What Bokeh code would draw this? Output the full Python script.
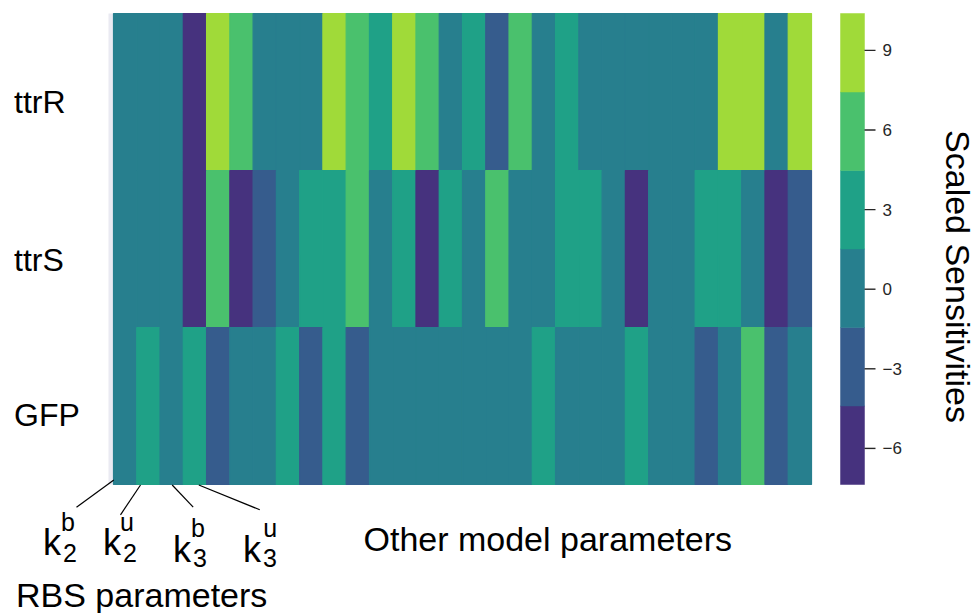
import numpy as np
from bokeh.plotting import figure
from bokeh.models import Range1d, ColumnDataSource, LinearColorMapper
from bokeh.transform import transform
from bokeh.core.properties import value
from bokeh.embed import file_html
from bokeh.resources import INLINE

# ---------------- data ----------------
rows = ["ttrR", "ttrS", "GFP"]
n_params = 30
ttrR = [0.0, 0.0, 0.0, -7.36, 10.39, 6.1, 0.0, 0.0, 0.0, 9.8, 5.9, 3.1, 9.6, 5.8, 0.0,
        2.9, -2.9, 6.0, 0.0, 3.0, 0.0, 0.0, 0.0, 0.0, 0.0, 0.0, 9.7, 9.5, 0.0, 9.9]
ttrS = [0.0, 0.0, 0.0, -7.1, 6.2, -6.8, -3.1, 0.0, 3.2, 2.8, 5.7, 0.0, 3.0, -6.6, 3.1,
        0.0, 6.0, 0.0, 0.0, 2.9, 3.0, 0.0, -6.9, 0.0, 0.0, 3.1, 2.9, 0.0, -6.7, -3.0]
GFP = [0.0, 2.6, 0.0, 2.7, -3.2, 0.0, 0.0, 2.8, -3.0, 3.0, -2.8, 0.0, 0.0, 0.0, 0.0,
       0.0, 0.0, 0.0, 2.9, 0.0, 0.0, 0.0, 3.0, 0.0, 0.0, -3.1, 0.0, 5.9, -2.9, 0.0]
series = [ttrR, ttrS, GFP]

palette = ["#46327e", "#365c8d", "#277f8e", "#1fa187", "#4ac16d", "#a0da39"]
cb_ticks = [-6, -3, 0, 3, 6, 9]
cb_tick_labels = ["\u22126", "\u22123", "0", "3", "6", "9"]
cb_title = "Scaled Sensitivities"
rbs_labels = [("k", "2", "b"), ("k", "2", "u"), ("k", "3", "b"), ("k", "3", "u")]
other_label = "Other model parameters"
rbs_group_label = "RBS parameters"

# ---------------- layout (page pixels -> data units) ----------------
W, H = 975, 613
HX0, HX1, HY0, HY1 = 113.0, 811.0, 13.0, 484.0   # heatmap box on page
cx = (HX1 - HX0) / n_params
cy = (HY1 - HY0) / len(rows)

def X(px):
    return (px - HX0) / cx

def Y(py):
    return (HY1 - py) / cy

vals = np.array(series)
vmin, vmax = float(vals.min()), float(vals.max())

def V(py):  # page y -> colorbar value
    return vmin + (HY1 - py) / (HY1 - HY0) * (vmax - vmin)

p = figure(width=W, height=H, output_backend="svg", toolbar_location=None,
           x_range=Range1d(X(0), X(W)), y_range=Range1d(Y(H), Y(0)),
           x_axis_type=None, y_axis_type=None, min_border=0,
           outline_line_color=None, background_fill_color="white",
           border_fill_color="white")
p.grid.visible = False
p.extra_y_ranges = {"cb": Range1d(V(H), V(0))}

FONT = value("Liberation Sans")

def txt(xs_px, ys_px, texts, size, **kw):
    p.text(x=[X(a) for a in xs_px], y=[Y(b) for b in ys_px], text=texts,
           text_font=FONT, text_font_size=value(size),
           text_color=kw.pop("color", "black"),
           text_align=kw.pop("align", "left"), text_baseline="middle", **kw)

# axes background strip
p.quad(left=[X(108)], right=[0], bottom=[0], top=[len(rows)],
       fill_color="#eaeaf2", line_color=None)

# heatmap cells
xs, ys, vs = [], [], []
for r, s in enumerate(series):
    for c, v in enumerate(s):
        xs.append(c + 0.5)
        ys.append(len(rows) - r - 0.5)
        vs.append(v)
src = ColumnDataSource(dict(x=xs, y=ys, v=vs))
mapper = LinearColorMapper(palette=palette, low=vmin, high=vmax)
p.rect(x="x", y="y", width=1, height=1, source=src,
       fill_color=transform("v", mapper), line_color=transform("v", mapper),
       line_width=1.2)

# row labels (visual centres)
txt([13.5] * 3, [101.5, 259.5, 414.5], rows, "32px")

# colorbar
edges = np.linspace(vmin, vmax, len(palette) + 1)
p.quad(left=X(840), right=X(864), bottom=edges[:-1], top=edges[1:],
       fill_color=palette, line_color=palette, line_width=0.5, y_range_name="cb")
p.segment(x0=[X(864)] * len(cb_ticks), x1=[X(875)] * len(cb_ticks),
          y0=cb_ticks, y1=cb_ticks, line_color="#262626", line_width=1.4,
          y_range_name="cb")
p.text(x=[X(882)] * len(cb_ticks), y=cb_ticks, text=cb_tick_labels,
       text_font=FONT, text_font_size=value("17px"), text_color="#262626",
       text_align="left", text_baseline="middle", y_range_name="cb")
txt([957], [276], [cb_title], "34px", align="center", angle=-np.pi / 2)

# RBS parameter pointer lines
seg_start = [(113.3, 479.5), (140, 484.5), (171.7, 484.5), (198.3, 484.5)]
seg_end = [(76, 506.7), (120, 514.3), (192.7, 506.7), (259.3, 509.3)]
p.segment(x0=[X(a) for a, b in seg_start], y0=[Y(b) for a, b in seg_start],
          x1=[X(a) for a, b in seg_end], y1=[Y(b) for a, b in seg_end],
          line_color="black", line_width=1.2)

# k labels (main, subscript, superscript) - visual centres
txt([42.6, 102.6, 172.6, 242.6], [542, 542, 549, 549],
    [t[0] for t in rbs_labels], "36px")
txt([62.5, 122.5, 192.5, 262.5], [552.5, 552.5, 557.5, 557.5],
    [t[1] for t in rbs_labels], "25px")
txt([60.5, 119.5, 190.5, 262.8], [521, 521, 527.5, 527.5],
    [t[2] for t in rbs_labels], "25px")

# group labels
txt([363], [538.5], [other_label], "34px")
txt([15.5], [594.5], [rbs_group_label], "34px")

open("out.html", "w").write(file_html(p, INLINE))
